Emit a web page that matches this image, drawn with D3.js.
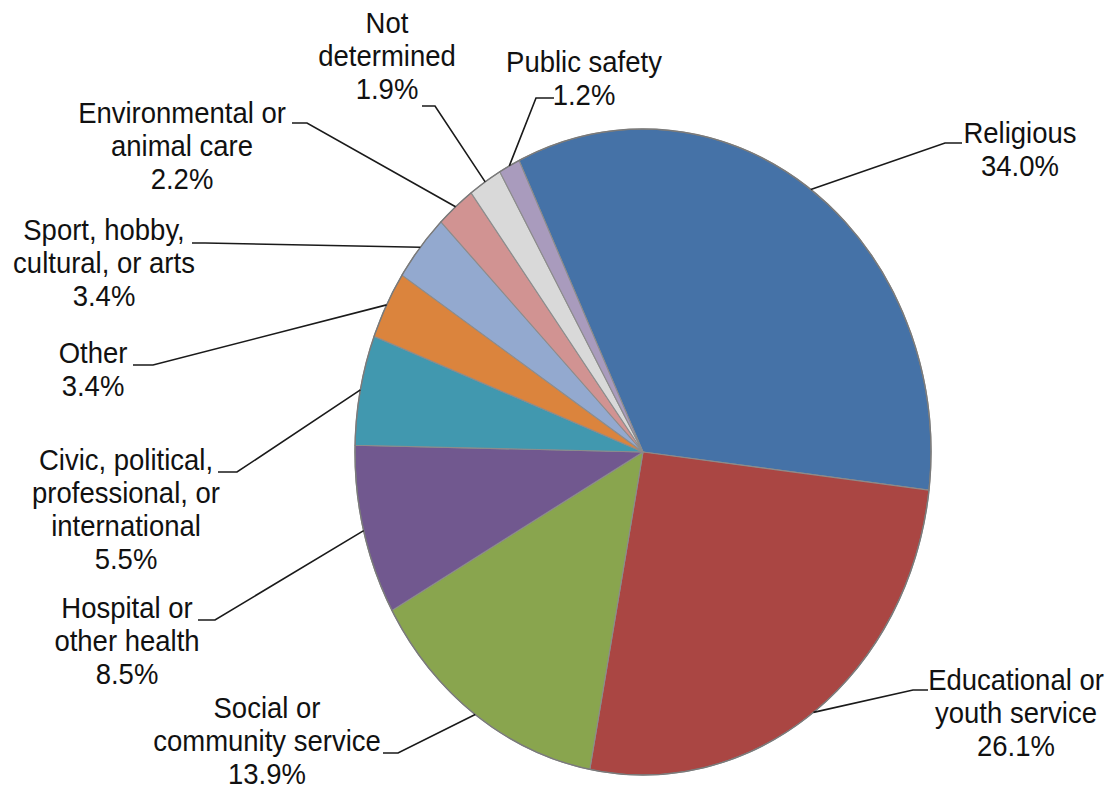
<!DOCTYPE html>
<html>
<head>
<meta charset="utf-8">
<script src="https://cdn.jsdelivr.net/npm/d3@7"></script>
<style>
  body { margin: 0; background: #fff; }
  svg { display: block; }
  text { font-family: "Liberation Sans", Arial, sans-serif; fill: #111; }
</style>
</head>
<body>
<div id="chart"></div>
<script>
// data (clockwise from Religious)
var categories = ["Religious", "Educational or\nyouth service", "Social or\ncommunity service",
  "Hospital or\nother health", "Civic, political,\nprofessional, or\ninternational", "Other",
  "Sport, hobby,\ncultural, or arts", "Environmental or\nanimal care", "Not\ndetermined", "Public safety"];
var shares = [34.0, 26.1, 13.9, 8.5, 5.5, 3.4, 3.4, 2.2, 1.9, 1.2];
var colors = ["#4572A7", "#AA4643", "#89A54E", "#71588F", "#4198AF", "#DB843D",
  "#93A9CF", "#D19392", "#D9D9D9", "#A99BBD"];

// where each label sits: text centre x, first baseline y, leader start and knee
var labelPos = [
  {x: 1020, y: 143, p: [[962, 143], [945, 143]]},
  {x: 1016, y: 690, p: [[928, 690], [913, 690]]},
  {x: 267, y: 718, p: [[383, 753], [398, 753]]},
  {x: 127, y: 618, p: [[198, 620], [215, 620]]},
  {x: 126, y: 470, p: [[218, 472], [237, 472]]},
  {x: 93, y: 363, p: [[133, 365], [153, 365]]},
  {x: 104, y: 240, p: [[192, 243], [205, 243]]},
  {x: 182, y: 123, p: [[292, 123], [307, 123]]},
  {x: 387, y: 33, p: [[422, 106], [435, 106]]},
  {x: 584, y: 72, p: [[554, 98], [536, 98]]}
];

var width = 1115, height = 793;
var cx = 643, cy = 452, rx = 288, ry = 323;
var lineH = 33;

var svg = d3.select("#chart").append("svg")
  .attr("width", width)
  .attr("height", height);

var start = -25.5 * Math.PI / 180;
var pie = d3.pie().sort(null).value(function(d) { return d; })
  .startAngle(start).endAngle(start + 2 * Math.PI);
var arcs = pie(shares);

var arc = d3.arc().innerRadius(0).outerRadius(rx);

// pie is squashed into an ellipse like the original
var g = svg.append("g")
  .attr("transform", "translate(" + cx + "," + cy + ") scale(1," + (ry / rx) + ")");

g.selectAll("path.slice")
  .data(arcs)
  .enter().append("path")
  .attr("class", "slice")
  .attr("d", arc)
  .attr("fill", function(d, i) { return colors[i]; })
  .attr("stroke", "#8c8c8c")
  .attr("stroke-width", 1.1)
  .attr("vector-effect", "non-scaling-stroke");

g.append("ellipse")
  .attr("rx", rx).attr("ry", rx)
  .attr("fill", "none")
  .attr("stroke", "#7a7a7a")
  .attr("stroke-width", 1.4)
  .attr("vector-effect", "non-scaling-stroke");

// leader lines end on the slice's outer edge at its mid angle
var line = d3.line();
arcs.forEach(function(d, i) {
  var a = (d.startAngle + d.endAngle) / 2;
  var edge = [cx + rx * Math.sin(a), cy - ry * Math.cos(a)];
  var pts = labelPos[i].p.concat([edge]);
  svg.append("path")
    .attr("d", line(pts))
    .attr("fill", "none")
    .attr("stroke", "#1a1a1a")
    .attr("stroke-width", 1.6);
});

var fmt = d3.format(".1f");
arcs.forEach(function(d, i) {
  var lines = categories[i].split("\n").concat([fmt(shares[i]) + "%"]);
  var lp = labelPos[i];
  var t = svg.append("text")
    .attr("text-anchor", "middle")
    .attr("font-size", 27.5)
    .attr("transform", "translate(" + lp.x + "," + lp.y + ") scale(1,1.1)");
  lines.forEach(function(s, k) {
    t.append("tspan")
      .attr("x", 0)
      .attr("y", k * lineH / 1.1)
      .text(s);
  });
});
</script>
</body>
</html>
